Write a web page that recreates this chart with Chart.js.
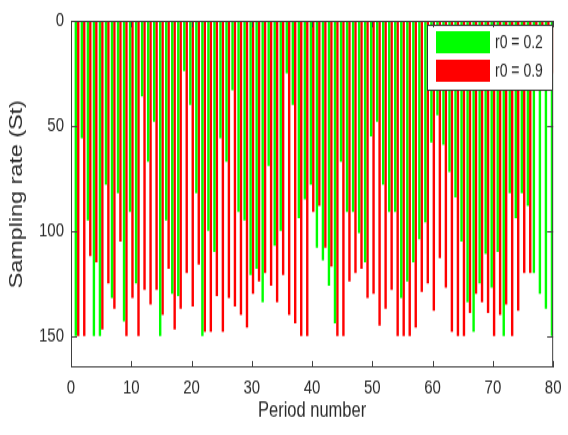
<!DOCTYPE html>
<html>
<head>
<meta charset="utf-8">
<script src="https://cdn.jsdelivr.net/npm/chart.js@4"></script>
<style>
  html, body { margin: 0; padding: 0; background: #fff; }
</style>
</head>
<body>
<!-- the reference figure was squeezed sideways, so draw at 335 high and stretch to 435 -->
<canvas id="chart" width="568" height="335" style="display:block;width:568px;height:435px"></canvas>
<script>
// period numbers 1..80
const periods = [
  1, 2, 3, 4, 5, 6, 7, 8, 9, 10, 11, 12, 13, 14, 15, 16, 17, 18, 19, 20,
  21, 22, 23, 24, 25, 26, 27, 28, 29, 30, 31, 32, 33, 34, 35, 36, 37, 38, 39, 40,
  41, 42, 43, 44, 45, 46, 47, 48, 49, 50, 51, 52, 53, 54, 55, 56, 57, 58, 59, 60,
  61, 62, 63, 64, 65, 66, 67, 68, 69, 70, 71, 72, 73, 74, 75, 76, 77, 78, 79, 80
];

// sampling rate, r0 = 0.2 (green)
const rateLow = [
  150, 56, 95, 150, 150, 78, 132, 82, 143, 91,
  125, 36, 67, 48, 150, 95, 130, 131, 24, 40,
  82, 150, 100, 110, 56, 67, 33, 91, 95, 121,
  118, 134, 69, 107, 100, 25, 40, 94, 85, 78,
  108, 114, 126, 144, 67, 91, 91, 101, 115, 55,
  48, 78, 91, 91, 132, 124, 115, 104, 96, 58,
  45, 59, 72, 84, 105, 134, 148, 125, 111, 127,
  110, 150, 82, 94, 82, 88, 120, 130, 137, 150
];

// sampling rate, r0 = 0.9 (red)
const rateHigh = [
  150, 150, 112, 115, 147, 125, 137, 105, 150, 132,
  150, 128, 135, 128, 140, 118, 147, 137, 120, 136,
  116, 148, 148, 131, 148, 132, 136, 140, 146, 130,
  124, 120, 126, 134, 121, 140, 144, 150, 150, 91,
  88, 108, 117, 150, 150, 124, 120, 118, 132, 130,
  145, 137, 128, 150, 150, 150, 146, 129, 125, 138,
  113, 127, 148, 150, 150, 139, 130, 134, 139, 150,
  140, 135, 150, 138, 120, 120, 25, 25, 25, 25
];

const xTicks = [0, 10, 20, 30, 40, 50, 60, 70, 80];
const yTicks = [0, 50, 100, 150];

const FONT = "'Liberation Sans', Arial, sans-serif";
const INK = '#2a2a2a';

// axis box with inward ticks and the boxed legend, drawn over the bars
const frame = {
  id: 'frame',
  afterDatasetsDraw(chart) {
    const {ctx, chartArea: a, scales: {x, y}} = chart;
    ctx.save();

    // legend
    const lx = 427, ly = 19, lw = 125, lh = 50;
    ctx.fillStyle = '#fff';
    ctx.fillRect(lx, ly, lw, lh);
    ctx.strokeStyle = '#333';
    ctx.lineWidth = 1;
    ctx.strokeRect(lx + 0.5, ly + 0.5, lw, lh);
    chart.data.datasets.forEach((ds, i) => {
      const top = ly + 5 + i * 22;
      ctx.fillStyle = ds.backgroundColor;
      ctx.fillRect(lx + 9, top, 54, 17);
      ctx.fillStyle = INK;
      ctx.font = '14px ' + FONT;
      ctx.textBaseline = 'middle';
      ctx.textAlign = 'left';
      ctx.fillText(ds.label, lx + 68, top + 9);
    });

    // box
    ctx.strokeStyle = '#404040';
    ctx.lineWidth = 1;
    ctx.strokeRect(a.left + 0.5, a.top + 0.5, a.width - 1, a.height - 1);

    // ticks pointing inwards
    ctx.beginPath();
    xTicks.forEach(v => {
      const px = Math.round(x.getPixelForValue(v)) + 0.5;
      ctx.moveTo(px, a.bottom); ctx.lineTo(px, a.bottom - 5);
      ctx.moveTo(px, a.top); ctx.lineTo(px, a.top + 5);
    });
    yTicks.forEach(v => {
      const py = Math.round(y.getPixelForValue(v)) + 0.5;
      ctx.moveTo(a.left, py); ctx.lineTo(a.left + 6, py);
      ctx.moveTo(a.right, py); ctx.lineTo(a.right - 6, py);
    });
    ctx.stroke();
    ctx.restore();
  }
};

const ctx = document.getElementById('chart').getContext('2d');
new Chart(ctx, {
  type: 'bar',
  data: {
    datasets: [
      {
        label: 'r0 = 0.2',
        data: periods.map((p, i) => ({x: p, y: rateLow[i]})),
        backgroundColor: '#00ff00',
        borderWidth: 0,
        clip: 0
      },
      {
        label: 'r0 = 0.9',
        data: periods.map((p, i) => ({x: p, y: rateHigh[i]})),
        backgroundColor: '#ff0000',
        borderWidth: 0,
        clip: 0
      }
    ]
  },
  options: {
    responsive: false,
    animation: false,
    devicePixelRatio: 1,
    layout: { padding: { left: 0, right: 11, top: 9, bottom: 0 } },
    datasets: { bar: { categoryPercentage: 0.8, barPercentage: 1 } },
    plugins: {
      legend: { display: false },
      tooltip: { enabled: false }
    },
    scales: {
      x: {
        type: 'linear',
        min: 0,
        max: 80,
        offset: false,
        grid: { display: false, drawTicks: false },
        border: { display: false },
        afterBuildTicks: s => { s.ticks = xTicks.map(v => ({value: v})); },
        afterFit: s => { s.height = 52; },
        ticks: {
          padding: 6.5,
          color: INK,
          maxRotation: 0,
          autoSkip: false,
          font: { family: FONT, size: 15 }
        },
        title: {
          display: true,
          text: 'Period number',
          color: INK,
          padding: { top: 0, bottom: 9 },
          font: { family: FONT, size: 16.5 }
        }
      },
      y: {
        reverse: true,
        min: 0,
        max: 165,
        grid: { display: false, drawTicks: false },
        border: { display: false },
        afterBuildTicks: s => { s.ticks = yTicks.map(v => ({value: v})); },
        afterFit: s => { s.width = 71; },
        ticks: {
          padding: 7,
          color: INK,
          font: { family: FONT, size: 15 }
        },
        title: {
          display: true,
          text: 'Sampling rate (St)',
          color: INK,
          padding: { top: 6, bottom: 0 },
          font: { family: FONT, size: 18 }
        }
      }
    }
  },
  plugins: [frame]
});
</script>
</body>
</html>
